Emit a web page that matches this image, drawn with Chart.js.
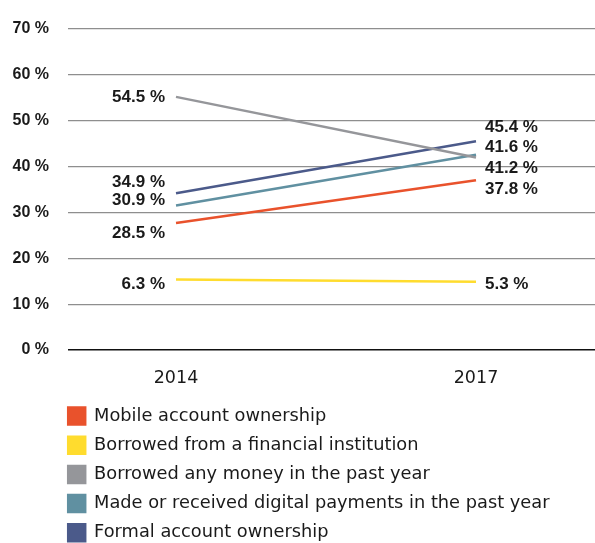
<!DOCTYPE html>
<html>
<head>
<meta charset="utf-8">
<script src="https://cdn.jsdelivr.net/npm/chart.js@4/dist/chart.umd.min.js"></script>
<style>
  html, body { margin: 0; padding: 0; background: #ffffff; }
  #wrap { width: 595px; height: 543px; position: relative; }
</style>
</head>
<body>
<div id="wrap"><canvas id="c" width="595" height="543"></canvas></div>
<script>
// ---- data ----
const years = [2014, 2017];
const seriesNames = [
  'Mobile account ownership',
  'Borrowed from a financial institution',
  'Borrowed any money in the past year',
  'Made or received digital payments in the past year',
  'Formal account ownership'
];
const mobileAccount   = [27.7, 37.0];
const borrowedFinInst = [15.4, 14.9];
const borrowedAny     = [55.2, 42.0];
const digitalPayments = [31.5, 42.6];
const formalAccount   = [34.2, 45.5];
const labels2014 = ['28.5 %', '6.3 %', '54.5 %', '30.9 %', '34.9 %'];
const labels2017 = ['37.8 %', '5.3 %', '41.2 %', '41.6 %', '45.4 %'];
const yTicks = [0, 10, 20, 30, 40, 50, 60, 70];

// ---- styles ----
const colors = ['#e9522c', '#ffdc2e', '#95969a', '#6090a1', '#4b5a8a'];
const labelOffsets2014 = [10, 5, 0, -5, -11];
const labelOffsets2017 = [9, 3, 11, -7, -14];

const allSeries = [mobileAccount, borrowedFinInst, borrowedAny, digitalPayments, formalAccount];

const datasets = allSeries.map((vals, i) => ({
  label: seriesNames[i],
  data: years.map((yr, j) => ({ x: yr, y: vals[j] })),
  borderColor: colors[i],
  backgroundColor: colors[i],
  borderWidth: 2.5,
  pointRadius: 0,
  pointHoverRadius: 0,
  tension: 0
}));

const boldFont = { family: '"Liberation Sans", Arial, sans-serif', weight: 'bold', size: 16 };
const tickFont = { family: '"DejaVu Sans", sans-serif', size: 17.5 };
const legendFont = { family: '"DejaVu Sans", sans-serif', size: 17.8 };

const valueLabels = {
  id: 'valueLabels',
  afterDatasetsDraw(chart) {
    const ctx = chart.ctx;
    const xs = chart.scales.x, ys = chart.scales.y;
    ctx.save();
    ctx.font = 'bold 17px "Liberation Sans", Arial, sans-serif';
    ctx.fillStyle = '#1a1a1a';
    ctx.textBaseline = 'middle';
    allSeries.forEach((vals, i) => {
      const x0 = xs.getPixelForValue(years[0]);
      const y0 = ys.getPixelForValue(vals[0]);
      ctx.textAlign = 'right';
      ctx.fillText(labels2014[i], x0 - 11, y0 + labelOffsets2014[i]);
      const x1 = xs.getPixelForValue(years[1]);
      const y1 = ys.getPixelForValue(vals[1]);
      ctx.textAlign = 'left';
      ctx.fillText(labels2017[i], x1 + 9, y1 + labelOffsets2017[i]);
    });
    ctx.restore();
  }
};

const legendShift = {
  id: 'legendShift',
  afterLayout(chart) {
    const lg = chart.legend;
    if (lg) {
      lg.left += 56.8; lg.right += 56.8;
      lg.top -= 3.3; lg.bottom -= 3.3;
    }
  }
};

new Chart(document.getElementById('c'), {
  type: 'line',
  data: { datasets },
  plugins: [valueLabels, legendShift],
  options: {
    responsive: false,
    animation: false,
    devicePixelRatio: 1,
    layout: { padding: { top: 29, right: 0, bottom: -12, left: 0 } },
    plugins: {
      tooltip: { enabled: false },
      legend: {
        position: 'bottom',
        align: 'start',
        labels: {
          boxWidth: 17,
          boxHeight: 17,
          padding: 11.4,
          color: '#1a1a1a',
          font: legendFont
        }
      }
    },
    scales: {
      x: {
        type: 'linear',
        min: 2012.92,
        max: 2018.19,
        afterBuildTicks(scale) { scale.ticks = years.map(v => ({ value: v })); },
        grid: { display: false },
        border: { display: false },
        ticks: {
          padding: 10,
          color: '#1a1a1a',
          font: tickFont,
          callback: (v) => String(v)
        }
      },
      y: {
        min: 0,
        max: 70,
        afterBuildTicks(scale) { scale.ticks = yTicks.map(v => ({ value: v })); },
        afterFit(scale) { scale.width = 68; },
        grid: {
          drawTicks: false,
          color: (ctx) => ctx.tick && ctx.tick.value === 0 ? '#111111' : '#8e8e8e',
          lineWidth: (ctx) => ctx.tick && ctx.tick.value === 0 ? 1.5 : 1.2
        },
        border: { display: false },
        ticks: {
          padding: 19,
          color: '#1a1a1a',
          font: boldFont,
          callback: (v) => v + ' %'
        }
      }
    }
  }
});
</script>
</body>
</html>
